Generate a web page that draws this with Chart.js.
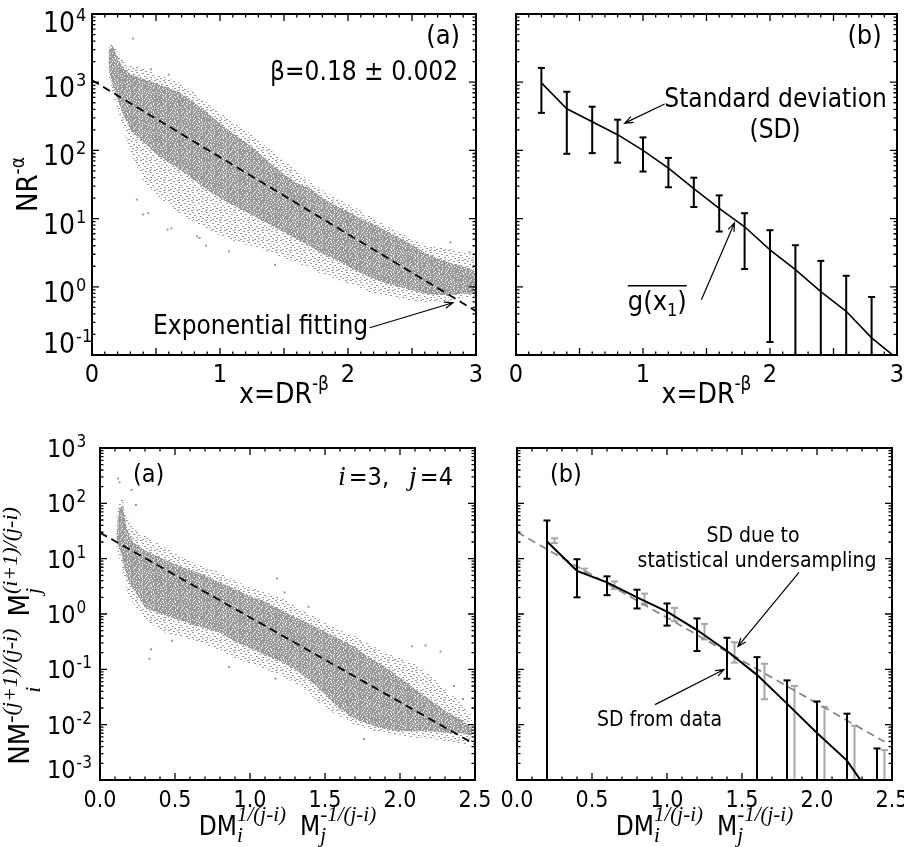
<!DOCTYPE html>
<html>
<head>
<meta charset="utf-8">
<script src="https://cdn.jsdelivr.net/npm/chart.js@4.4.1/dist/chart.umd.min.js"></script>
<style>
  html, body { margin:0; padding:0; background:#ffffff; }
  #wrap { position:relative; width:904px; height:847px; overflow:hidden; background:#fff; }
  #wrap canvas { position:absolute; left:0; top:0; }
</style>
</head>
<body>
<div id="wrap">
  <canvas id="pA1" width="904" height="847"></canvas>
  <canvas id="pB1" width="904" height="847"></canvas>
  <canvas id="pA2" width="904" height="847"></canvas>
  <canvas id="pB2" width="904" height="847"></canvas>
</div>
<script>
// ================= DATA =================
// --- Top row, panel (a): cloud of NR^-alpha vs x = DR^-beta (envelopes of the point cloud)
const cloudTopX       = [0.13, 0.16, 0.2, 0.25, 0.3, 0.4, 0.5, 0.6, 0.7, 0.8, 0.9, 1.0, 1.1, 1.2, 1.3, 1.4, 1.5, 1.6, 1.7, 1.8, 1.9, 2.0, 2.1, 2.2, 2.3, 2.4, 2.5, 2.6, 2.7, 2.8, 2.9, 3.0];
const cloudTopOuterHi = [3160, 3980, 2820, 2000, 1780, 1580, 1320, 1120, 955, 708, 501, 355, 263, 200, 141, 100, 70.8, 50.1, 35.5, 26.3, 20.0, 16.6, 13.2, 10.0, 7.94, 6.31, 5.01, 4.17, 3.80, 3.55, 3.16, 2.82];
const cloudTopInnerHi = [2820, 3550, 2240, 1580, 1320, 1120, 955, 832, 676, 501, 355, 251, 178, 132, 93.3, 63.1, 44.7, 33.1, 28.2, 20.0, 15.8, 12.6, 10.0, 8.32, 6.61, 5.25, 4.17, 3.16, 2.63, 2.24, 2.00, 1.66];
const cloudTopInnerLo = [1580, 891, 562, 316, 200, 132, 89.1, 66.1, 50.1, 36.3, 26.3, 20.0, 15.8, 12.6, 10.0, 7.94, 6.31, 5.01, 3.98, 3.02, 2.51, 2.00, 1.58, 1.32, 1.12, 1.00, 0.891, 0.794, 0.759, 0.759, 0.794, 0.794];
const cloudTopOuterLo = [1260, 708, 398, 200, 89.1, 35.5, 22.4, 15.8, 11.2, 8.91, 7.08, 5.62, 4.79, 4.17, 3.80, 3.16, 2.63, 2.24, 1.91, 1.51, 1.32, 1.12, 0.955, 0.794, 0.724, 0.676, 0.631, 0.589, 0.603, 0.631, 0.661, 0.708];
const outlierTopX = [0.32, 0.46, 0.60, 0.35, 0.40, 0.44, 0.59, 0.62, 0.82, 0.84, 0.89, 1.07, 1.43, 2.80, 2.95];
const outlierTopY = [4370, 1550, 1290, 19.0, 11.5, 12.0, 6.9, 7.2, 5.5, 5.2, 4.0, 3.3, 2.1, 4.5, 3.2];
const fitTopX = [0, 3];
const fitTopY = [1070, 0.44];

// --- Top row, panel (b): mean g(x1) with standard deviation
const sdTopX  = [0.2, 0.4, 0.6, 0.8, 1.0, 1.2, 1.4, 1.6, 1.8, 2.0, 2.2, 2.4, 2.6, 2.8];
const sdTopHi = [1620, 724, 437, 282, 155, 77.6, 39.8, 21.9, 12.0, 6.76, 4.07, 2.40, 1.45, 0.708];
const sdTopLo = [355, 89.1, 91.2, 66.1, 49.0, 28.8, 14.8, 6.46, 1.82, 0.155, 0.01, 0.01, 0.01, 0.01];
const meanTopX = [0.2, 0.4, 0.6, 0.8, 1.0, 1.2, 1.4, 1.6, 1.8, 2.0, 2.2, 2.4, 2.6, 2.8, 3.0];
const meanTopY = [977, 407, 263, 170, 100, 55.0, 27.5, 14.1, 7.59, 3.47, 1.78, 0.851, 0.437, 0.178, 0.089];

// --- Bottom row, panel (a): cloud (i=3, j=4)
const cloudBotX       = [0.11, 0.13, 0.15, 0.18, 0.22, 0.3, 0.4, 0.5, 0.6, 0.7, 0.8, 0.9, 1.0, 1.1, 1.2, 1.3, 1.4, 1.5, 1.6, 1.7, 1.8, 1.9, 2.0, 2.1, 2.2, 2.3, 2.4, 2.48];
const cloudBotOuterHi = [50.1, 112, 126, 56.2, 35.5, 26.3, 17.8, 12.6, 8.91, 7.08, 5.62, 3.98, 3.02, 2.51, 2.0, 1.41, 1.0, 0.708, 0.501, 0.398, 0.282, 0.2, 0.158, 0.126, 0.0794, 0.0447, 0.0251, 0.0141];
const cloudBotInnerHi = [31.6, 79.4, 93.3, 35.5, 20.0, 14.1, 10.5, 7.94, 6.31, 5.01, 3.72, 2.82, 2.09, 1.66, 1.20, 0.891, 0.661, 0.479, 0.355, 0.251, 0.158, 0.112, 0.0708, 0.0447, 0.0282, 0.0178, 0.0126, 0.00891];
const cloudBotInnerLo = [20.0, 15.8, 10.0, 4.37, 2.88, 1.32, 1.00, 0.832, 0.661, 0.550, 0.457, 0.316, 0.240, 0.182, 0.138, 0.100, 0.0631, 0.0355, 0.0191, 0.0126, 0.0100, 0.00832, 0.00759, 0.00759, 0.00759, 0.00708, 0.00708, 0.00631];
const cloudBotOuterLo = [15.8, 10.0, 6.31, 2.51, 1.58, 0.794, 0.501, 0.398, 0.355, 0.282, 0.224, 0.158, 0.126, 0.100, 0.0794, 0.0562, 0.0355, 0.0200, 0.0141, 0.0100, 0.00794, 0.00708, 0.00631, 0.00562, 0.00562, 0.00501, 0.00447, 0.00447];
const outlierBotX = [0.12, 0.13, 0.21, 0.24, 0.33, 0.34, 0.48, 0.86, 1.18, 1.23, 1.17, 1.39, 1.76, 2.08, 2.17, 2.27, 2.36, 2.42];
const outlierBotY = [282, 240, 174, 93, 0.155, 0.23, 0.33, 0.11, 4.4, 2.45, 0.068, 1.35, 0.0055, 0.26, 0.27, 0.21, 0.05, 0.029];
const fitBotX = [0, 2.5];
const fitBotY = [29.5, 0.0044];

// --- Bottom row, panel (b): SD from data (black) and SD due to undersampling (grey)
const sdBotX  = [0.2, 0.4, 0.6, 0.8, 1.0, 1.2, 1.4, 1.6, 1.8, 2.0, 2.2, 2.4];
const sdBotHi = [49.0, 9.77, 4.79, 2.75, 1.55, 0.832, 0.372, 0.166, 0.0631, 0.0263, 0.0158, 0.00372];
const sdBotLo = [0.0001, 2.00, 2.19, 1.26, 0.617, 0.214, 0.0676, 0.0001, 0.0001, 0.0001, 0.0001, 0.0001];
const meanBotX = [0.2, 0.4, 0.6, 0.8, 1.0, 1.2, 1.4, 1.6, 1.8, 2.0, 2.2, 2.4];
const meanBotY = [20.4, 6.03, 3.72, 2.00, 1.10, 0.513, 0.214, 0.0794, 0.0240, 0.00708, 0.00224, 0.00037];
const usBotX  = [0.25, 0.45, 0.65, 0.85, 1.05, 1.25, 1.45, 1.65, 1.85, 2.05, 2.25, 2.45];
const usBotHi = [23.4, 6.61, 3.89, 2.34, 1.29, 0.661, 0.309, 0.126, 0.0501, 0.0209, 0.00955, 0.00347];
const usBotLo = [19.1, 5.50, 2.82, 1.48, 0.741, 0.347, 0.132, 0.0288, 0.0001, 0.0001, 0.0001, 0.0001];
const usFitX = [0, 2.45];
const usFitY = [30.2, 0.0049];

// --- Tick labels
const topXTicks = [0, 1, 2, 3];
const topXTickLabels = ['0', '1', '2', '3'];
const topYTicks = [1e4, 1e3, 1e2, 1e1, 1, 0.1];
const topYTickExps = ['4', '3', '2', '1', '0', '-1'];
const botXTicks = [0, 0.5, 1, 1.5, 2, 2.5];
const botXTickLabels = ['0.0', '0.5', '1.0', '1.5', '2.0', '2.5'];
const botYTicks = [1e3, 1e2, 1e1, 1, 0.1, 0.01, 0.001];
const botYTickExps = ['3', '2', '1', '0', '-1', '-2', '-3'];

// ================= STYLE / HELPERS =================
const F  = s => s + 'px "DejaVu Sans Condensed", "DejaVu Sans", sans-serif';
const FI = s => 'italic ' + s + 'px "Liberation Serif", "DejaVu Serif", serif';
const GREY = '#999999';

// texture tiles for the point cloud ('#' = grey pixel)
const DENSE_TILE = [
  '##.###.##.##',
  '#.#####.####',
  '####.##.##.#',
  '.####.######',
  '##.#####.#.#',
  '####.#.#####',
  '#.#####.##.#',
  '###.#####.##'
];
const SPARSE_TILE = [
  '##.......##...',
  '.....##.......',
  '..........##..',
  '..##..........',
  '.......##.....',
  '............##',
  '....##........',
  '#.........##..',
  '......##......',
  '..##.......#..'
];
function tilePattern(rows, color) {
  const c = document.createElement('canvas'); c.width = rows[0].length; c.height = rows.length;
  const g = c.getContext('2d'); g.fillStyle = color;
  rows.forEach((r, y) => { for (let x = 0; x < r.length; x++) if (r[x] === '#') g.fillRect(x, y, 1, 1); });
  return g.createPattern(c, 'repeat');
}
const densePat  = tilePattern(DENSE_TILE, '#9a9a9a');
const sparsePat = tilePattern(SPARSE_TILE, GREY);

const pts = (xs, ys) => xs.map((x, i) => ({ x: x, y: ys[i] }));
function barPts(xs, lo, hi) { const o = []; xs.forEach((x, i) => { o.push({x, y: lo[i]}, {x, y: hi[i]}, {x, y: null}); }); return o; }
function capPts(xs, lo, hi) { const o = []; xs.forEach((x, i) => { o.push({x, y: lo[i]}, {x, y: hi[i]}); }); return o; }

function layoutItems(ctx, items) {
  let x = 0; const out = [];
  for (const it of items) {
    if (it.gap) { x += it.gap; continue; }
    ctx.font = it.f;
    if (it.t !== undefined) { out.push({ t: it.t, f: it.f, x: x, dy: it.dy || 0 }); x += ctx.measureText(it.t).width; continue; }
    let w = 0;
    if (it.sup) { const sx = it.supDx || 0; out.push({ t: it.sup, f: it.f, x: x + sx, dy: -it.up }); w = Math.max(w, sx + ctx.measureText(it.sup).width); }
    if (it.sub) { const bx = it.subDx || 0; out.push({ t: it.sub, f: it.f, x: x + bx, dy: it.down }); w = Math.max(w, bx + ctx.measureText(it.sub).width); }
    x += w;
  }
  return { w: x, out: out };
}
function drawRich(ctx, items, x, y, align, rot) {
  ctx.save(); ctx.translate(x, y); if (rot) ctx.rotate(rot);
  const L = layoutItems(ctx, items);
  const x0 = align === 'center' ? -L.w / 2 : (align === 'right' ? -L.w : 0);
  ctx.textAlign = 'left'; ctx.textBaseline = 'alphabetic'; ctx.fillStyle = '#000';
  for (const o of L.out) { ctx.font = o.f; ctx.fillText(o.t, x0 + o.x, o.dy); }
  ctx.restore();
  return { x0: x + x0, w: L.w };
}
function drawArrow(ctx, x1, y1, x2, y2) {
  const ang = Math.atan2(y2 - y1, x2 - x1), h = 9, s = 0.36;
  ctx.save(); ctx.strokeStyle = '#000'; ctx.lineWidth = 1.2;
  ctx.beginPath(); ctx.moveTo(x1, y1); ctx.lineTo(x2, y2);
  ctx.moveTo(x2 - h * Math.cos(ang - s), y2 - h * Math.sin(ang - s)); ctx.lineTo(x2, y2);
  ctx.lineTo(x2 - h * Math.cos(ang + s), y2 - h * Math.sin(ang + s));
  ctx.stroke(); ctx.restore();
}

function drawAxes(chart, P) {
  const ctx = chart.ctx, a = chart.chartArea, xs = chart.scales.x, ys = chart.scales.y;
  ctx.save(); ctx.strokeStyle = '#000'; ctx.fillStyle = '#000';
  ctx.lineWidth = 1.3; ctx.beginPath();
  const nx = Math.round((P.xMax - P.xMin) / 0.1);
  for (let i = 0; i <= nx; i++) {
    const p = xs.getPixelForValue(P.xMin + i * 0.1), len = (i % 5 === 0) ? 7 : 3.5;
    ctx.moveTo(p, a.bottom); ctx.lineTo(p, a.bottom - len);
    ctx.moveTo(p, a.top); ctx.lineTo(p, a.top + len);
  }
  for (let e = P.yMinExp; e <= P.yMaxExp; e++) {
    for (let k = 1; k <= 9; k++) {
      if (e === P.yMaxExp && k > 1) break;
      const p = ys.getPixelForValue(k * Math.pow(10, e)), len = k === 1 ? 7 : 3.5;
      ctx.moveTo(a.left, p); ctx.lineTo(a.left + len, p);
      ctx.moveTo(a.right, p); ctx.lineTo(a.right - len, p);
    }
  }
  ctx.stroke();
  ctx.lineWidth = 2; ctx.strokeRect(a.left, a.top, a.right - a.left, a.bottom - a.top);
  ctx.font = P.xFont; ctx.textAlign = 'center'; ctx.textBaseline = 'alphabetic';
  P.xTicks.forEach((v, i) => ctx.fillText(P.xLabels[i], xs.getPixelForValue(v), a.bottom + P.xLabelOff));
  if (P.yTicks) {
    P.yTicks.forEach((v, i) => {
      let b = ys.getPixelForValue(v) + P.yBaseOff;
      if (P.clampTop) b = Math.max(b, a.top + P.clampTop);
      b = Math.min(b, a.bottom - 2);
      const x0 = a.left - P.yLabelInset;
      ctx.textAlign = 'left'; ctx.font = P.yFont; ctx.fillText('10', x0, b);
      const w = ctx.measureText('10').width;
      ctx.font = P.yExpFont; ctx.fillText(P.yExps[i], x0 + w + 1, b - P.yExpRaise);
    });
  }
  ctx.restore();
}
function drawTexts(chart, texts) {
  const ctx = chart.ctx, xs = chart.scales.x, ys = chart.scales.y;
  ctx.save(); ctx.fillStyle = '#000';
  for (const t of texts) {
    ctx.font = t.f; ctx.textAlign = t.align; ctx.textBaseline = t.base;
    ctx.fillText(t.t, xs.getPixelForValue(t.x), ys.getPixelForValue(t.y));
  }
  ctx.restore();
}
function drawArrows(chart, arrows) {
  const xs = chart.scales.x, ys = chart.scales.y;
  for (const r of arrows) drawArrow(chart.ctx, xs.getPixelForValue(r[0]), ys.getPixelForValue(r[1]), xs.getPixelForValue(r[2]), ys.getPixelForValue(r[3]));
}

// ---------------- decorations (axes, labels, annotations) per panel ----------------
const botXTitle = [{ t: 'DM', f: F(26) }, { sup: '1/(j-i)', sub: 'i', f: FI(21), up: 14, down: 7 }, { gap: 14 },
                   { t: 'M', f: F(26) }, { sup: '-1/(j-i)', sub: 'j', f: FI(21), up: 14, down: 7 }];
const deco = {
  pA1: chart => {
    const a = chart.chartArea;
    drawAxes(chart, { xMin: 0, xMax: 3, yMinExp: -1, yMaxExp: 4, xTicks: topXTicks, xLabels: topXTickLabels, xFont: F(25), xLabelOff: 27,
      yTicks: topYTicks, yExps: topYTickExps, yFont: F(28), yExpFont: F(18), yExpRaise: 11, yBaseOff: 15, clampTop: 18, yLabelInset: 49 });
    drawTexts(chart, [
      { t: '(a)', x: 2.875, y: 4570, align: 'right', base: 'middle', f: F(27) },
      { t: 'β=0.18 ± 0.002', x: 2.86, y: 1070, align: 'right', base: 'alphabetic', f: F(26) },
      { t: 'Exponential fitting', x: 0.477, y: 0.2, align: 'left', base: 'alphabetic', f: F(26) }
    ]);
    drawArrows(chart, [[2.17, 0.251, 2.82, 0.583]]);
    drawRich(chart.ctx, [{ t: 'x=DR', f: F(28) }, { sup: '-β', f: F(19), up: 13 }], (a.left + a.right) / 2, a.bottom + 48, 'center');
    drawRich(chart.ctx, [{ t: 'NR', f: F(29) }, { sup: '-α', f: F(19), up: 13 }], 37, (a.top + a.bottom) / 2, 'center', -Math.PI / 2);
  },
  pB1: chart => {
    const a = chart.chartArea, xs = chart.scales.x, ys = chart.scales.y, ctx = chart.ctx;
    drawAxes(chart, { xMin: 0, xMax: 3, yMinExp: -1, yMaxExp: 4, xTicks: topXTicks, xLabels: topXTickLabels, xFont: F(25), xLabelOff: 27 });
    drawTexts(chart, [
      { t: '(b)', x: 2.88, y: 4570, align: 'right', base: 'middle', f: F(27) },
      { t: 'Standard deviation', x: 2.92, y: 432, align: 'right', base: 'alphabetic', f: F(26) },
      { t: '(SD)', x: 2.04, y: 151, align: 'center', base: 'alphabetic', f: F(26) }
    ]);
    drawArrows(chart, [[1.17, 479, 0.856, 251], [1.46, 0.646, 1.72, 8.65]]);
    const gx = xs.getPixelForValue(0.88), gy = ys.getPixelForValue(0.46);
    const r = drawRich(ctx, [{ t: 'g(x', f: F(27) }, { sub: '1', f: F(18), down: 6 }, { t: ')', f: F(27) }], gx, gy, 'left');
    ctx.save(); ctx.strokeStyle = '#000'; ctx.lineWidth = 1.5; ctx.beginPath();
    ctx.moveTo(r.x0, gy - 24); ctx.lineTo(r.x0 + r.w, gy - 24); ctx.stroke(); ctx.restore();
    drawRich(ctx, [{ t: 'x=DR', f: F(28) }, { sup: '-β', f: F(19), up: 13 }], (a.left + a.right) / 2, a.bottom + 48, 'center');
  },
  pA2: chart => {
    const a = chart.chartArea, ctx = chart.ctx, xs = chart.scales.x, ys = chart.scales.y;
    drawAxes(chart, { xMin: 0, xMax: 2.5, yMinExp: -3, yMaxExp: 3, xTicks: botXTicks, xLabels: botXTickLabels, xFont: F(23), xLabelOff: 27,
      yTicks: botYTicks, yExps: botYTickExps, yFont: F(25), yExpFont: F(17), yExpRaise: 10, yBaseOff: 9, clampTop: 0, yLabelInset: 53 });
    drawTexts(chart, [{ t: '(a)', x: 0.22, y: 324, align: 'left', base: 'middle', f: F(25) }]);
    drawRich(ctx, [{ t: 'i', f: FI(28) }, { gap: 3 }, { t: '=3,', f: F(25) }, { gap: 20 }, { t: 'j', f: FI(28) }, { gap: 3 }, { t: '=4', f: F(25) }],
      xs.getPixelForValue(2.353), ys.getPixelForValue(214), 'right');
    drawRich(ctx, botXTitle, (a.left + a.right) / 2, a.bottom + 55, 'center');
    drawRich(ctx, [{ t: 'NM', f: F(29) }, { sup: '-(j+1)/(j-i)', sub: 'i', subDx: 30, f: FI(22), up: 12, down: 11 }, { gap: 12 },
                   { t: 'M', f: F(29) }, { sup: '(i+1)/(j-i)', sub: 'j', f: FI(22), up: 12, down: 11 }], 29, 636, 'center', -Math.PI / 2);
  },
  pB2: chart => {
    const a = chart.chartArea, ctx = chart.ctx;
    drawAxes(chart, { xMin: 0, xMax: 2.5, yMinExp: -3, yMaxExp: 3, xTicks: botXTicks, xLabels: botXTickLabels, xFont: F(23), xLabelOff: 27 });
    drawTexts(chart, [
      { t: '(b)', x: 0.22, y: 324, align: 'left', base: 'middle', f: F(25) },
      { t: 'SD due to', x: 1.573, y: 19.8, align: 'center', base: 'alphabetic', f: F(21) },
      { t: 'statistical undersampling', x: 1.6, y: 6.98, align: 'center', base: 'alphabetic', f: F(21) },
      { t: 'SD from data', x: 0.533, y: 0.00955, align: 'left', base: 'alphabetic', f: F(21) }
    ]);
    drawArrows(chart, [[1.88, 5.68, 1.473, 0.259], [0.92, 0.023, 1.38, 0.099]]);
    drawRich(ctx, botXTitle, (a.left + a.right) / 2, a.bottom + 55, 'center');
  }
};
const decoPlugin = { id: 'deco', afterDraw(chart) { const d = deco[chart.canvas.id]; if (d) d(chart); } };

function makeChart(id, area, xr, yr, datasets) {
  return new Chart(document.getElementById(id), {
    type: 'line',
    data: { datasets: datasets },
    options: {
      responsive: false, animation: false, devicePixelRatio: 1, events: [],
      layout: { padding: { left: area[0], top: area[1], right: 904 - area[2], bottom: 847 - area[3] } },
      scales: {
        x: { type: 'linear', min: xr[0], max: xr[1], display: false },
        y: { type: 'logarithmic', min: yr[0], max: yr[1], display: false }
      },
      elements: { point: { radius: 0 }, line: { tension: 0 } },
      plugins: { legend: { display: false }, tooltip: { enabled: false }, colors: { enabled: false } }
    },
    plugins: [decoPlugin]
  });
}
function cloudSets(X, oLo, oHi, iLo, iHi, ox, oy, fx, fy) {
  const none = 'rgba(0,0,0,0)';
  return [
    { data: pts(X, oLo), borderColor: none, borderWidth: 0, fill: false, order: 20 },
    { data: pts(X, oHi), borderColor: none, borderWidth: 0, fill: 0, backgroundColor: sparsePat, order: 19 },
    { data: pts(X, iLo), borderColor: none, borderWidth: 0, fill: false, order: 18 },
    { data: pts(X, iHi), borderColor: none, borderWidth: 0, fill: 2, backgroundColor: densePat, order: 17 },
    { data: pts(ox, oy), showLine: false, fill: false, pointRadius: 1.4, pointStyle: 'rect', pointBackgroundColor: GREY, pointBorderWidth: 0, order: 5 },
    { data: pts(fx, fy), borderColor: '#000', borderWidth: 1.8, borderDash: [8, 5], fill: false, order: 1 }
  ];
}
function errSets(X, lo, hi, color, order) {
  return [
    { data: barPts(X, lo, hi), borderColor: color, borderWidth: 2, spanGaps: false, fill: false, order: order },
    { data: capPts(X, lo, hi), showLine: false, fill: false, pointStyle: 'line', pointRadius: 3.5, pointBorderWidth: 2, pointBorderColor: color, order: order }
  ];
}

// ---------------- charts ----------------
makeChart('pA1', [92, 14, 476, 355], [0, 3], [0.1, 1e4],
  cloudSets(cloudTopX, cloudTopOuterLo, cloudTopOuterHi, cloudTopInnerLo, cloudTopInnerHi, outlierTopX, outlierTopY, fitTopX, fitTopY));
makeChart('pB1', [516, 14, 897, 355], [0, 3], [0.1, 1e4], [
  { data: pts(meanTopX, meanTopY), borderColor: '#000', borderWidth: 1.6, fill: false, order: 1 },
  ...errSets(sdTopX, sdTopLo, sdTopHi, '#000', 2)
]);
makeChart('pA2', [100, 448, 475, 780], [0, 2.5], [0.001, 1000],
  cloudSets(cloudBotX, cloudBotOuterLo, cloudBotOuterHi, cloudBotInnerLo, cloudBotInnerHi, outlierBotX, outlierBotY, fitBotX, fitBotY));
makeChart('pB2', [517, 448, 892, 780], [0, 2.5], [0.001, 1000], [
  { data: pts(meanBotX, meanBotY), borderColor: '#000', borderWidth: 2, fill: false, order: 1 },
  ...errSets(sdBotX, sdBotLo, sdBotHi, '#000', 2),
  { data: pts(usFitX, usFitY), borderColor: '#888888', borderWidth: 1.8, borderDash: [8, 5], fill: false, order: 3 },
  ...errSets(usBotX, usBotLo, usBotHi, '#a8a8a8', 4)
]);
</script>
</body>
</html>
